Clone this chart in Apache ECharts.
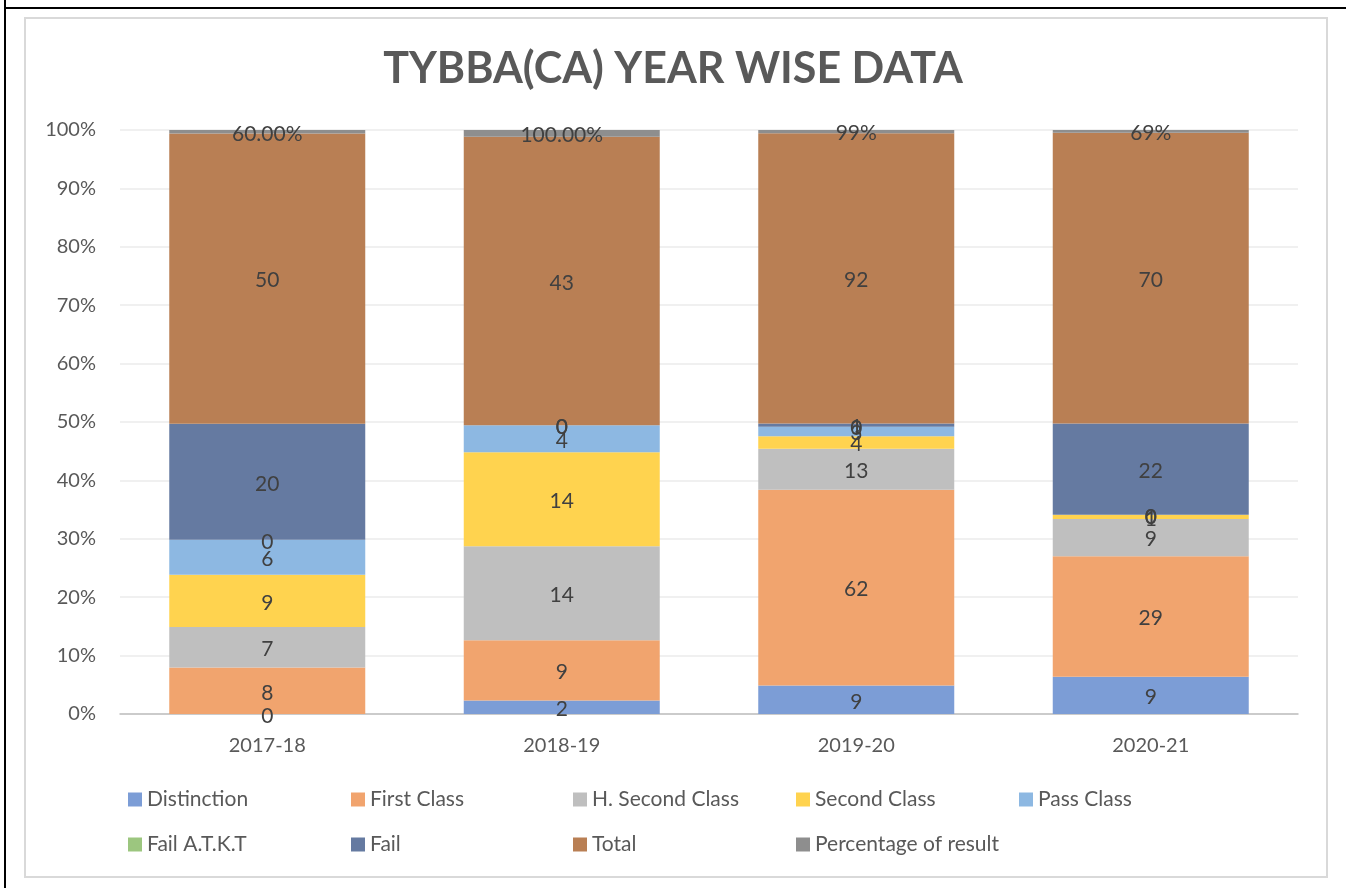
<!DOCTYPE html>
<html>
<head>
<meta charset="utf-8">
<script src="https://cdn.jsdelivr.net/npm/echarts@6/dist/echarts.min.js"></script>
<style>
html,body{margin:0;padding:0;background:#fff;}
#chart{width:1346px;height:888px;}
</style>
</head>
<body>
<div id="chart"></div>
<script>
const categories = ['2017-18', '2018-19', '2019-20', '2020-21'];
const seriesNames = ['Distinction', 'First Class', 'H. Second Class', 'Second Class', 'Pass Class', 'Fail A.T.K.T', 'Fail', 'Total', 'Percentage of result'];
const distinction = [0, 2, 9, 9];
const firstClass = [8, 9, 62, 29];
const hSecondClass = [7, 14, 13, 9];
const secondClass = [9, 14, 4, 1];
const passClass = [6, 4, 3, 0];
const failATKT = [0, 0, 0, 0];
const fail = [20, 0, 1, 22];
const total = [50, 43, 92, 70];
const percentageOfResult = [0.60, 1.00, 0.99, 0.69];
const percentageLabels = ['60.00%', '100.00%', '99%', '69%'];
const yTicks = [0, 10, 20, 30, 40, 50, 60, 70, 80, 90, 100];

const colors = ['#7C9DD6', '#F1A46E', '#BFBFBF', '#FFD34F', '#8DB8E2', '#9CC67F', '#657AA1', '#B97F54', '#8E8E8E'];
const rawSeries = [distinction, firstClass, hSecondClass, secondClass, passClass, failATKT, fail, total, percentageOfResult];

const sums = categories.map((c, i) => rawSeries.reduce((a, s) => a + s[i], 0));

const FONT = 'Lato';
const series = rawSeries.map((arr, si) => ({
  name: seriesNames[si],
  type: 'bar',
  stack: 'all',
  barWidth: 196,
  itemStyle: { color: colors[si] },
  data: arr.map((v, i) => ({ value: v / sums[i] * 100 })),
  label: {
    show: true,
    position: 'inside',
    color: '#404040',
    fontSize: 21,
    fontFamily: FONT,
    offset: [0, 2],
    formatter: p => si === 8 ? percentageLabels[p.dataIndex] : String(arr[p.dataIndex])
  },
  emphasis: { disabled: true }
}));

const legendPos = [
  [128, 789], [351, 789], [573, 789], [796, 789], [1019, 789],
  [128, 834], [351, 834], [573, 834], [796, 834]
];
const legends = seriesNames.map((n, i) => ({
  data: [n],
  left: legendPos[i][0],
  top: legendPos[i][1],
  itemWidth: 14,
  itemHeight: 14,
  icon: 'rect',
  padding: 0,
  textStyle: { color: '#595959', fontSize: 21, fontFamily: FONT },
  selectedMode: false
}));

const chart = echarts.init(document.getElementById('chart'), null, { renderer: 'canvas' });
chart.setOption({
  animation: false,
  backgroundColor: '#ffffff',
  title: {
    text: 'TYBBA(CA) YEAR WISE DATA',
    left: 'center',
    top: 43,
    textStyle: { color: '#595959', fontSize: 43, fontWeight: 'bold', fontFamily: FONT }
  },
  legend: legends,
  grid: { left: 120, right: 48, top: 130, bottom: 174, containLabel: false },
  xAxis: {
    type: 'category',
    data: categories,
    axisLine: { lineStyle: { color: '#BFBFBF', width: 1.5 } },
    axisTick: { show: false },
    axisLabel: { color: '#595959', fontSize: 20, fontFamily: FONT, margin: 22 }
  },
  yAxis: {
    type: 'value',
    min: 0,
    max: 100,
    interval: 10,
    axisLine: { show: false },
    axisTick: { show: false },
    splitLine: { lineStyle: { color: '#EBEBEB', width: 1.5 } },
    axisLabel: { color: '#595959', fontSize: 20, fontFamily: FONT, margin: 24, formatter: v => yTicks.includes(v) ? v + '%' : '' }
  },
  graphic: [
    { type: 'rect', shape: { x: 25, y: 18, width: 1302, height: 859 }, style: { fill: 'none', stroke: '#D9D9D9', lineWidth: 2 }, z: -10 },
    { type: 'line', shape: { x1: 5, y1: 0, x2: 5, y2: 888 }, style: { stroke: '#000', lineWidth: 2 } },
    { type: 'line', shape: { x1: 5, y1: 8, x2: 1346, y2: 8 }, style: { stroke: '#000', lineWidth: 2 } }
  ],
  series: series
});
</script>
</body>
</html>
